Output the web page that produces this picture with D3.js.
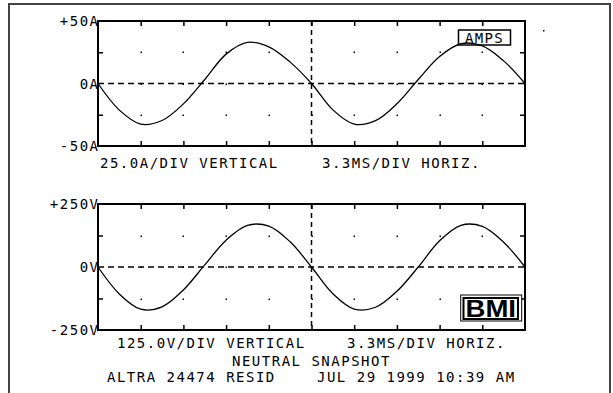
<!DOCTYPE html>
<meta charset="utf-8">
<style>
body { margin: 0; background: #fff; }
text { font-family: "DejaVu Sans Mono", monospace; font-size: 14px; letter-spacing: 1.5px; fill: #000; }
</style>
<body>
<script src="https://d3js.org/d3.v7.min.js"></script>
<script>
// sample times, ms (half division steps, 3.3ms/div)
var timeMs = [0, 1.65, 3.3, 4.95, 6.6, 8.25, 9.9, 11.55, 13.2, 14.85, 16.5,
              18.15, 19.8, 21.45, 23.1, 24.75, 26.4, 28.05, 29.7, 31.35, 33];
// neutral current, A
var amps = [0, -21.3, -32.5, -29.6, -16.3, 3.2, 23.5, 32.9, 29.3, 17.1, 0,
            -21.1, -32.5, -29.7, -16.2, 3.2, 21.6, 31.8, 30.1, 18.1, 0];
// voltage, V
var volts = [0, -107, -167.5, -158, -91, 8.4, 106.5, 165, 162.5, 100, 0,
             -106, -167, -159.7, -96.5, 0, 104, 165.6, 161.4, 98.4, 0];

var ampTicks = [50, 0, -50];
var ampLabels = ["+50A", "0A", "-50A"];
var voltTicks = [250, 0, -250];
var voltLabels = ["+250V", "0V", "-250V"];

var width = 613, height = 393;

var svg = d3.select("body").append("svg")
    .attr("width", width)
    .attr("height", height);

// outer frame (runs off the bottom)
svg.append("rect")
    .attr("x", 9).attr("y", 4)
    .attr("width", 601).attr("height", 400)
    .attr("fill", "none")
    .attr("stroke", "#444")
    .attr("stroke-width", 2);

var x = d3.scaleLinear().domain([0, 33]).range([98, 525]);
var divTicks = d3.range(1, 10).map(function(i) { return i * 3.3; });

function scope(yScale, top, bottom, values, ticks, labels) {
  var g = svg.append("g");
  var half = (ticks[0]) / 2;

  // grid dots
  divTicks.forEach(function(t) {
    [half, 0, -half].forEach(function(v) {
      g.append("rect")
          .attr("x", Math.round(x(t)) - 0.5).attr("y", Math.round(yScale(v)) - 0.5)
          .attr("width", 1.5).attr("height", 1.5)
          .attr("fill", "#000");
    });
  });

  // inward ticks
  g.append("g")
      .attr("transform", "translate(0," + top + ")")
      .call(d3.axisTop(x).tickValues(divTicks).tickSize(-5).tickSizeOuter(0).tickFormat(""));
  g.append("g")
      .attr("transform", "translate(0," + bottom + ")")
      .call(d3.axisBottom(x).tickValues(divTicks).tickSize(-5).tickSizeOuter(0).tickFormat(""));
  g.append("g")
      .attr("transform", "translate(" + x(0) + ",0)")
      .call(d3.axisLeft(yScale).tickValues([half, -half]).tickSize(-5).tickSizeOuter(0).tickFormat(""));
  g.append("g")
      .attr("transform", "translate(" + x(33) + ",0)")
      .call(d3.axisRight(yScale).tickValues([half, -half]).tickSize(-5).tickSizeOuter(0).tickFormat(""));
  g.selectAll(".domain").remove();
  g.selectAll(".tick line").attr("stroke", "#000").attr("stroke-width", 1.5);

  // dashed zero line and centre line
  g.append("line")
      .attr("x1", x(0)).attr("x2", x(33))
      .attr("y1", yScale(0)).attr("y2", yScale(0))
      .attr("stroke", "#000").attr("stroke-width", 1.5)
      .attr("stroke-dasharray", "6,4");
  g.append("line")
      .attr("x1", x(16.5)).attr("x2", x(16.5))
      .attr("y1", top).attr("y2", bottom)
      .attr("stroke", "#000").attr("stroke-width", 1.5)
      .attr("stroke-dasharray", "5,4");

  // frame
  g.append("rect")
      .attr("x", x(0)).attr("y", top)
      .attr("width", x(33) - x(0)).attr("height", bottom - top)
      .attr("fill", "none").attr("stroke", "#000").attr("stroke-width", 2);

  // trace
  var line = d3.line()
      .x(function(d, i) { return x(timeMs[i]); })
      .y(function(d) { return yScale(d); })
      .curve(d3.curveCatmullRom);
  g.append("path")
      .datum(values)
      .attr("d", line)
      .attr("fill", "none")
      .attr("stroke", "#000")
      .attr("stroke-width", 1.3);

  // y labels
  g.selectAll(".ylab")
      .data(ticks)
      .enter().append("text")
      .attr("x", x(0) + 1.5)
      .attr("y", function(d) { return yScale(d) + 5; })
      .attr("text-anchor", "end")
      .text(function(d, i) { return labels[i]; });

  return g;
}

var yA = d3.scaleLinear().domain([-50, 50]).range([146, 21]);
var yV = d3.scaleLinear().domain([-250, 250]).range([330, 204]);

scope(yA, 21, 146, amps, ampTicks, ampLabels);
scope(yV, 204, 330, volts, voltTicks, voltLabels);

// AMPS tag
svg.append("rect")
    .attr("x", 458.5).attr("y", 30).attr("width", 52).attr("height", 15)
    .attr("fill", "none").attr("stroke", "#000").attr("stroke-width", 1.5);
svg.append("text")
    .attr("x", 465).attr("y", 43.3)
    .style("letter-spacing", "1.3px")
    .text("AMPS");
svg.append("rect")
    .attr("x", 543).attr("y", 30).attr("width", 1.5).attr("height", 1.5)
    .attr("fill", "#000");

// BMI logo
svg.append("rect")
    .attr("x", 460.7).attr("y", 295).attr("width", 61).attr("height", 26)
    .attr("fill", "#fff").attr("stroke", "#000").attr("stroke-width", 1);
svg.append("rect")
    .attr("x", 463.5).attr("y", 298).attr("width", 54.5).attr("height", 21)
    .attr("fill", "none").attr("stroke", "#000").attr("stroke-width", 2);
svg.append("text")
    .attr("x", 465.5).attr("y", 317.3)
    .attr("textLength", 50.5).attr("lengthAdjust", "spacingAndGlyphs")
    .style("font-family", "'Liberation Sans', Arial, sans-serif")
    .style("font-weight", "bold").style("font-size", "24px").style("letter-spacing", "0px")
    .text("BMI");

// captions
var captions = [
  {t: "25.0A/DIV VERTICAL", x: 100, y: 167.5},
  {t: "3.3MS/DIV HORIZ.", x: 322, y: 167.5},
  {t: "125.0V/DIV VERTICAL", x: 117, y: 347.5},
  {t: "3.3MS/DIV HORIZ.", x: 347, y: 347.5},
  {t: "NEUTRAL SNAPSHOT", x: 232, y: 365.5},
  {t: "ALTRA 24474 RESID", x: 107, y: 382},
  {t: "JUL 29 1999 10:39 AM", x: 317, y: 382}
];
svg.selectAll(".cap")
    .data(captions)
    .enter().append("text")
    .attr("x", function(d) { return d.x; })
    .attr("y", function(d) { return d.y; })
    .text(function(d) { return d.t; });
</script>
